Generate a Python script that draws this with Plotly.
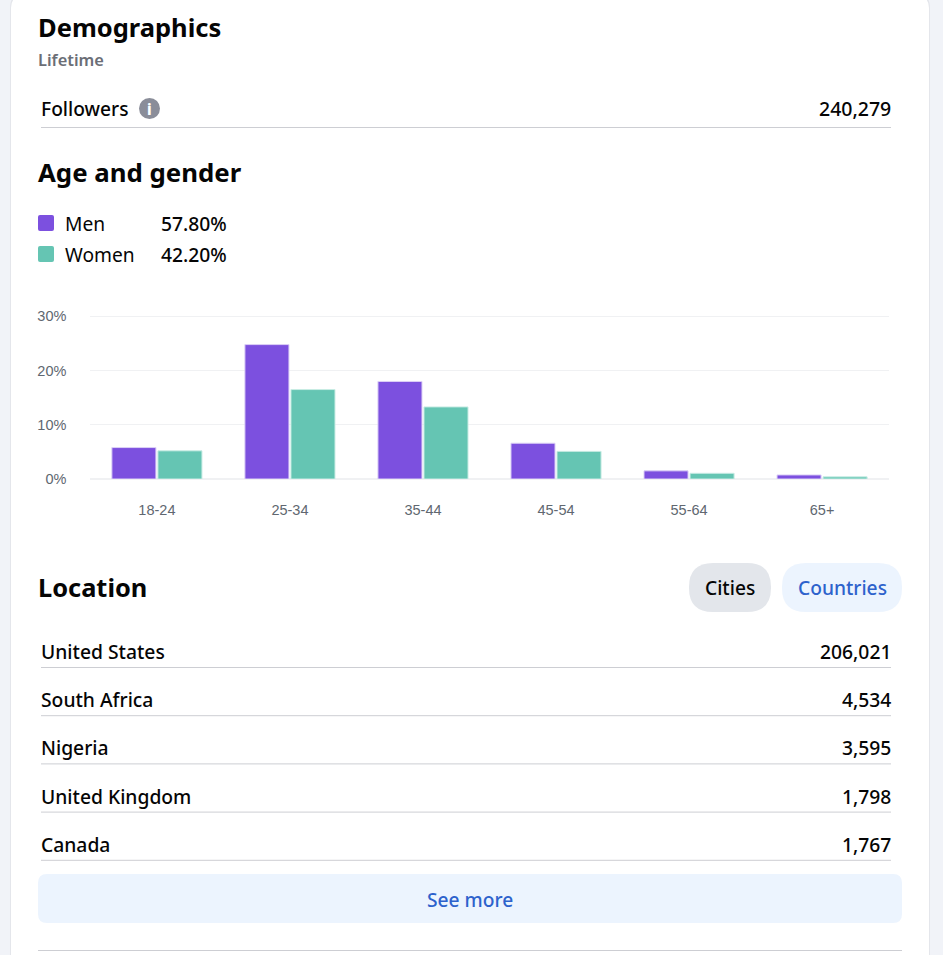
import plotly.graph_objects as go

W, H = 943, 955
FONT = "Noto Sans"

# --- data
age_groups = ["18-24", "25-34", "35-44", "45-54", "55-64", "65+"]
men = [5.8, 24.8, 18.0, 6.6, 1.5, 0.75]
women = [5.2, 16.5, 13.3, 5.1, 1.05, 0.4]
y_ticks = [0, 10, 20, 30]
y_labels = ["0%", "10%", "20%", "30%"]

legend_names = ["Men", "Women"]
legend_shares = ["57.80%", "42.20%"]

followers = "240,279"
countries = ["United States", "South Africa", "Nigeria", "United Kingdom", "Canada"]
country_counts = ["206,021", "4,534", "3,595", "1,798", "1,767"]

PURPLE = "#7c50df"
TEAL = "#65c5b3"


# --- helpers, everything below is in page pixels
def px(x):
    return x / W


def py(y):
    return 1 - y / H


def label(fig, x, y, text, size, color="#050505", anchor="left", weight=400, font=FONT):
    fig.add_annotation(
        x=px(x), y=py(y), xref="paper", yref="paper", text=text, showarrow=False,
        xanchor=anchor, yanchor="middle", borderpad=0,
        font=dict(family=font, size=size, color=color, weight=weight),
    )


def round_box(fig, x0, y0, x1, y1, r, fill):
    path = (
        f"M {px(x0 + r)} {py(y0)} L {px(x1 - r)} {py(y0)} "
        f"Q {px(x1)} {py(y0)} {px(x1)} {py(y0 + r)} L {px(x1)} {py(y1 - r)} "
        f"Q {px(x1)} {py(y1)} {px(x1 - r)} {py(y1)} L {px(x0 + r)} {py(y1)} "
        f"Q {px(x0)} {py(y1)} {px(x0)} {py(y1 - r)} L {px(x0)} {py(y0 + r)} "
        f"Q {px(x0)} {py(y0)} {px(x0 + r)} {py(y0)} Z"
    )
    fig.add_shape(type="path", path=path, xref="paper", yref="paper",
                  fillcolor=fill, line_width=0, layer="below")


def rule(fig, x0, x1, y, color="#cdced3"):
    fig.add_shape(type="line", x0=px(x0), x1=px(x1), y0=py(y), y1=py(y),
                  xref="paper", yref="paper", line=dict(color=color, width=1), layer="below")


# --- plot
fig = go.Figure()
fig.add_trace(go.Bar(x=age_groups, y=men, name=legend_names[0], marker_color=PURPLE,
                     marker_line=dict(color="#dcd0f6", width=1)))
fig.add_trace(go.Bar(x=age_groups, y=women, name=legend_names[1], marker_color=TEAL,
                     marker_line=dict(color="#c9ece4", width=1)))

# range runs a bit past 30 so the top gridline is kept
y_top = 31
px_per_unit = (479 - 316.4) / 30
fig.update_layout(
    width=W, height=H, margin=dict(l=0, r=0, t=0, b=0),
    paper_bgcolor="#f1f3f8", plot_bgcolor="rgba(0,0,0,0)",
    barmode="group", bargap=0.308, bargroupgap=0.043, showlegend=False,
    xaxis=dict(
        domain=[px(90.4), px(888.6)], showgrid=False, zeroline=False, showline=False,
        ticks="", ticklabelstandoff=20, automargin=False,
        tickfont=dict(family="Liberation Sans", size=14.5, color="#606770"),
    ),
    yaxis=dict(
        domain=[py(479), py(479 - y_top * px_per_unit)], range=[0, y_top],
        tickvals=y_ticks, ticktext=y_labels, automargin=False,
        showgrid=True, gridcolor="#f0f1f3", gridwidth=1, zeroline=True, zerolinecolor="#f0f1f3",
        ticks="", ticklabelstandoff=23,
        tickfont=dict(family="Liberation Sans", size=14.5, color="#606770"),
    ),
)

# card and controls
round_box(fig, 10, -5, 930, 980, 12, "#e4e6eb")
round_box(fig, 11, -4, 929, 980, 12, "#ffffff")
round_box(fig, 689, 563, 771, 612, 24, "#e3e6eb")
round_box(fig, 782, 563, 902, 612, 24, "#ecf4fe")
round_box(fig, 38, 874, 902, 923, 9, "#ecf4fe")

# header
label(fig, 37, 27, "Demographics", 25.5, weight=700)
label(fig, 37, 60, "Lifetime", 16.4, color="#6b6e76", weight=600)
label(fig, 40, 108.4, "Followers", 19.2, weight=500)
label(fig, 892, 108.4, followers, 19.5, anchor="right", weight=500)
rule(fig, 41, 891, 127.5)
fig.add_shape(type="circle", x0=px(139), x1=px(160), y0=py(119), y1=py(98),
              xref="paper", yref="paper", fillcolor="#8a8d99", line_width=0, layer="below")
label(fig, 149.5, 108.5, "i", 15, color="#ffffff", anchor="center", weight=800)

# legend
label(fig, 37, 172, "Age and gender", 25.8, weight=700)
for i, (name, share) in enumerate(zip(legend_names, legend_shares)):
    y = 223 + i * 31
    round_box(fig, 38, y - 8, 54, y + 8, 2, [PURPLE, TEAL][i])
    label(fig, 64, y + 0.4, name, 19.2)
    label(fig, 228, y + 0.4, share, 19.3, anchor="right", weight=500)

# location table
label(fig, 37, 587, "Location", 25.4, weight=700)
label(fig, 730, 587.4, "Cities", 19.2, anchor="center", weight=500)
label(fig, 842, 587.4, "Countries", 19.2, color="#2d62cc", anchor="center", weight=500)
for i, (country, count) in enumerate(zip(countries, country_counts)):
    y = 652 + i * 48.2
    label(fig, 40, y - 0.6, country, 19.3, weight=500)
    label(fig, 892, y - 0.6, count, 19.3, anchor="right", weight=500)
    rule(fig, 41, 891, y + 15.5)
label(fig, 470, 899.4, "See more", 19.2, color="#2d62cc", anchor="center", weight=500)
rule(fig, 38, 902, 950.5)

fig.write_html("out.html", config={"displayModeBar": False},
               post_script="document.body.style.margin='0';document.body.style.overflow='hidden';")
